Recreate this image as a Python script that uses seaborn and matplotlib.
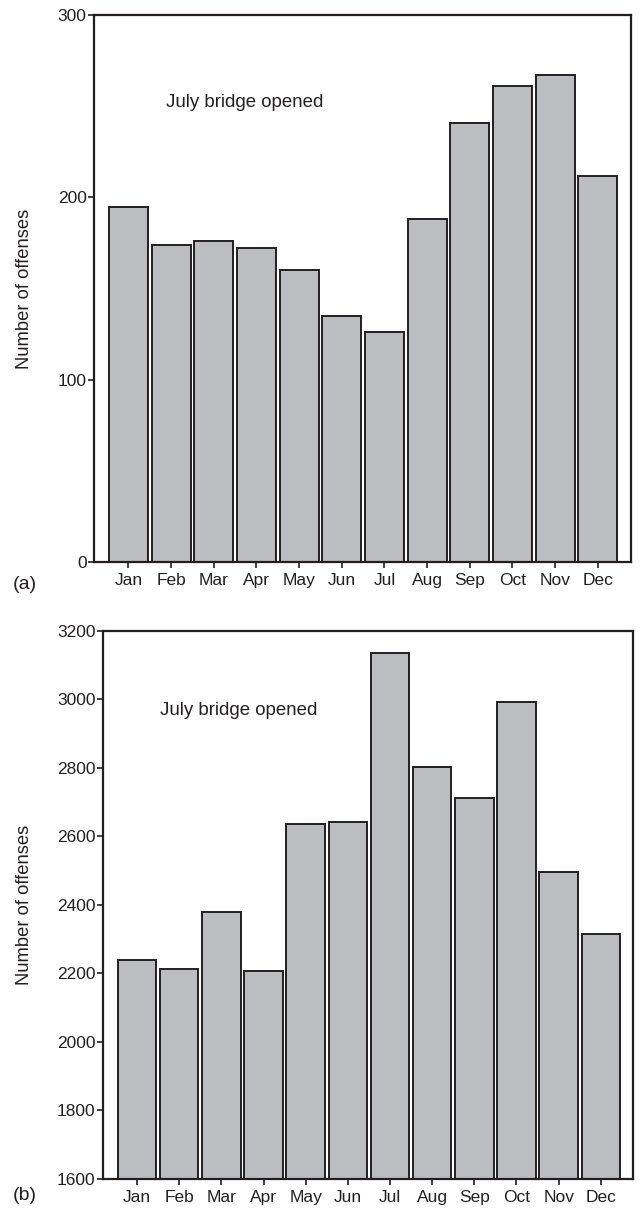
import seaborn as sns
import matplotlib.pyplot as plt
import numpy as np

months = ["Jan", "Feb", "Mar", "Apr", "May", "Jun",
          "Jul", "Aug", "Sep", "Oct", "Nov", "Dec"]

# (a) offenses per month, first data set
offenses_a = [195, 174, 176, 172, 160, 135, 126, 188, 241, 261, 267, 212]
# (b) offenses per month, second data set
offenses_b = [2238, 2212, 2380, 2207, 2635, 2641, 3135, 2803, 2711, 2992, 2497, 2314]

ticks_a = [0, 100, 200, 300]
ticks_b = [1600, 1800, 2000, 2200, 2400, 2600, 2800, 3000, 3200]

sns.set_style("white")
plt.rcParams["font.family"] = ["Liberation Sans", "DejaVu Sans"]

bar_color = "#bcbdc1"
ink = "#231f20"

fig = plt.figure(figsize=(6.42, 12.15), dpi=100)
ax_a = fig.add_axes([0.1469, 0.5372, 0.8355, 0.4505])
ax_b = fig.add_axes([0.1609, 0.0299, 0.8255, 0.4508])


def draw_panel(ax, values, yticks, text_x, text_y, label_x):
    sns.barplot(x=months, y=values, ax=ax, color=bar_color, saturation=1,
                edgecolor=ink, linewidth=1.4, width=0.91)
    ax.set_ylim(yticks[0], yticks[-1])
    ax.set_yticks(yticks)
    ax.set_xlim(-0.8, 11.77)
    for s in ax.spines.values():
        s.set_visible(True)
        s.set_color(ink)
        s.set_linewidth(1.6)
    ax.tick_params(axis="both", which="major", direction="out", length=4,
                   width=1.2, color=ink, labelsize=12.5, labelcolor=ink,
                   left=True, bottom=True)
    ax.tick_params(axis="y", pad=1.5)
    ax.tick_params(axis="x", pad=4)
    ax.set_xlabel("")
    ax.set_ylabel("Number of offenses", fontsize=13.2, color=ink)
    ax.yaxis.set_label_coords(label_x, 0.5)
    ax.text(text_x, text_y, "July bridge opened", fontsize=13.4, color=ink,
            ha="left", va="center")


draw_panel(ax_a, offenses_a, ticks_a, 0.89, 252, -0.114)
draw_panel(ax_b, offenses_b, ticks_b, 0.55, 2969, -0.133)

fig.text(24.5 / 642, 1 - 584 / 1215, "(a)", fontsize=14, color=ink,
         ha="center", va="center")
fig.text(24.5 / 642, 1 - 1196 / 1215, "(b)", fontsize=14, color=ink,
         ha="center", va="center")

fig.savefig("out.png", dpi=100, facecolor="white")
